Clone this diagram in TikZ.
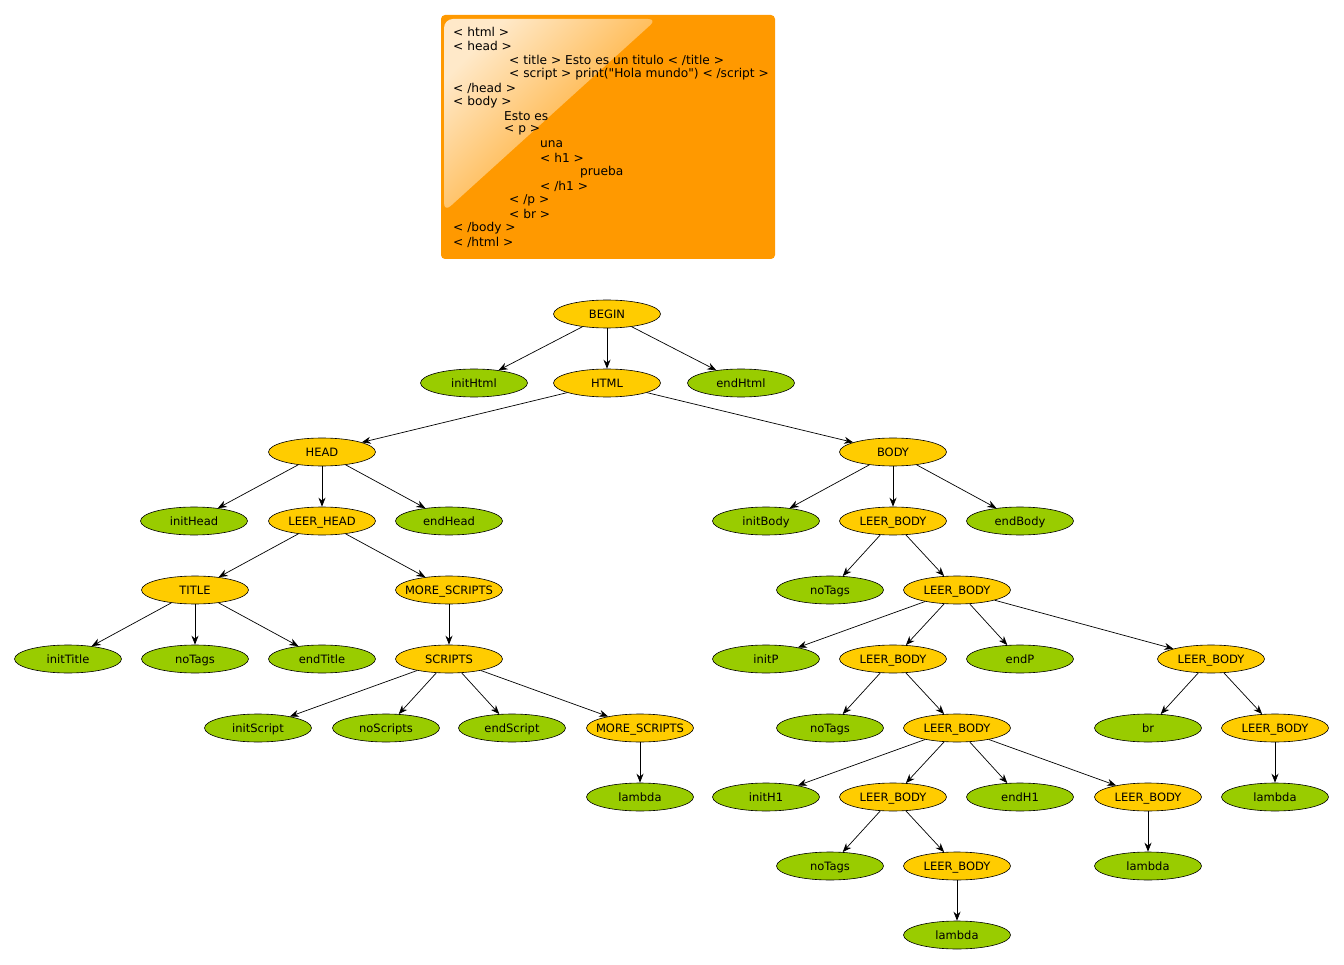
\documentclass[tikz,border=0pt]{standalone}
\usepackage{fontspec}
\setmainfont{DejaVu Sans}
\usetikzlibrary{shapes.geometric,arrows.meta}
\definecolor{nt}{HTML}{FFCC00}
\definecolor{tm}{HTML}{99CC00}
\definecolor{boxor}{HTML}{FF9900}
\definecolor{glossA}{HTML}{FFE9C9}
\definecolor{glossM}{HTML}{FFAA36}
% label that does not widen its ellipse
\newcommand\nodetext[1]{\makebox[0pt]{#1}}
\tikzset{
  gnode/.style={ellipse,draw=black,line width=0.6pt,minimum width=107pt,minimum height=28pt,inner sep=0pt,
    text height=10.4pt,text depth=2pt,font=\fontsize{11.5}{13}\selectfont},
  nonterm/.style={gnode,fill=nt},
  term/.style={gnode,fill=tm},
  edge/.style={-{Stealth[length=9pt,width=7pt]},line width=0.7pt},
  codeline/.style={anchor=west,inner sep=0pt,font=\fontsize{12.2}{14}\selectfont}
}
\begin{document}
\begin{tikzpicture}[x=1pt,y=-1pt]
\useasboundingbox (0,0) rectangle (1344,965);
\fill[white] (0,0) rectangle (1344,965);
% source box with gloss
\fill[boxor,rounded corners=4pt] (441,15) rectangle (775,259);
\shade[top color=glossA,middle color=glossM,bottom color=boxor,shading angle=45,rounded corners=9pt]
  (444,19) -- (657,19) -- (444,212) -- cycle;
\node[codeline] (l1) at (453,32) {< html >};
\node[codeline] (l2) at (453,46) {< head >};
\node[codeline] (l3) at (509,60) {< title > Esto es un titulo < /title >};
\node[codeline] (l4) at (509,74) {< script > print(\textquotedbl Hola mundo\textquotedbl) < /script >};
\node[codeline] (l5) at (453,88) {< /head >};
\node[codeline] (l6) at (453,102) {< body >};
\node[codeline] (l7) at (504,116) {Esto es};
\node[codeline] (l8) at (504,130) {< p >};
\node[codeline] (l9) at (540,144) {una};
\node[codeline] (l10) at (540,158) {< h1 >};
\node[codeline] (l11) at (580,172) {prueba};
\node[codeline] (l12) at (540,186) {< /h1 >};
\node[codeline] (l13) at (509,200) {< /p >};
\node[codeline] (l14) at (509,214) {< br >};
\node[codeline] (l15) at (453,228) {< /body >};
\node[codeline] (l16) at (453,242) {< /html >};
% tree nodes
\node[nonterm] (begin) at (607,314) {\nodetext{BEGIN}};
\node[term] (inithtml) at (474,383) {\nodetext{initHtml}};
\node[nonterm] (html) at (607,383) {\nodetext{HTML}};
\node[term] (endhtml) at (741,383) {\nodetext{endHtml}};
\node[nonterm] (head) at (322,452) {\nodetext{HEAD}};
\node[nonterm] (body) at (893,452) {\nodetext{BODY}};
\node[term] (inithead) at (194,521) {\nodetext{initHead}};
\node[nonterm] (leerhead) at (322,521) {\nodetext{LEER\_HEAD}};
\node[term] (endhead) at (449,521) {\nodetext{endHead}};
\node[term] (initbody) at (766,521) {\nodetext{initBody}};
\node[nonterm] (lb1) at (893,521) {\nodetext{LEER\_BODY}};
\node[term] (endbody) at (1020,521) {\nodetext{endBody}};
\node[nonterm] (title) at (195,590) {\nodetext{TITLE}};
\node[nonterm] (ms1) at (449,590) {\nodetext{MORE\_SCRIPTS}};
\node[term] (nt1) at (830,590) {\nodetext{noTags}};
\node[nonterm] (lb2) at (957,590) {\nodetext{LEER\_BODY}};
\node[term] (inittitle) at (68,659) {\nodetext{initTitle}};
\node[term] (nttitle) at (195,659) {\nodetext{noTags}};
\node[term] (endtitle) at (322,659) {\nodetext{endTitle}};
\node[nonterm] (scripts) at (449,659) {\nodetext{SCRIPTS}};
\node[term] (initp) at (766,659) {\nodetext{initP}};
\node[nonterm] (lb3) at (893,659) {\nodetext{LEER\_BODY}};
\node[term] (endp) at (1020,659) {\nodetext{endP}};
\node[nonterm] (lb4) at (1211,659) {\nodetext{LEER\_BODY}};
\node[term] (initscript) at (258,728) {\nodetext{initScript}};
\node[term] (noscripts) at (386,728) {\nodetext{noScripts}};
\node[term] (endscript) at (512,728) {\nodetext{endScript}};
\node[nonterm] (ms2) at (640,728) {\nodetext{MORE\_SCRIPTS}};
\node[term] (nt2) at (830,728) {\nodetext{noTags}};
\node[nonterm] (lb5) at (957,728) {\nodetext{LEER\_BODY}};
\node[term] (br) at (1148,728) {\nodetext{br}};
\node[nonterm] (lb6) at (1275,728) {\nodetext{LEER\_BODY}};
\node[term] (lam1) at (640,797) {\nodetext{lambda}};
\node[term] (inith1) at (766,797) {\nodetext{initH1}};
\node[nonterm] (lb7) at (893,797) {\nodetext{LEER\_BODY}};
\node[term] (endh1) at (1020,797) {\nodetext{endH1}};
\node[nonterm] (lb8) at (1148,797) {\nodetext{LEER\_BODY}};
\node[term] (lam2) at (1275,797) {\nodetext{lambda}};
\node[term] (nt3) at (830,866) {\nodetext{noTags}};
\node[nonterm] (lb9) at (957,866) {\nodetext{LEER\_BODY}};
\node[term] (lam3) at (1148,866) {\nodetext{lambda}};
\node[term] (lam4) at (957,935) {\nodetext{lambda}};
% derivation edges
\foreach \p/\c in {begin/inithtml,begin/html,begin/endhtml,
  html/head,html/body,
  head/inithead,head/leerhead,head/endhead,
  body/initbody,body/lb1,body/endbody,
  leerhead/title,leerhead/ms1,
  lb1/nt1,lb1/lb2,
  title/inittitle,title/nttitle,title/endtitle,
  ms1/scripts,
  lb2/initp,lb2/lb3,lb2/endp,lb2/lb4,
  scripts/initscript,scripts/noscripts,scripts/endscript,scripts/ms2,
  lb3/nt2,lb3/lb5,
  lb4/br,lb4/lb6,
  ms2/lam1,
  lb5/inith1,lb5/lb7,lb5/endh1,lb5/lb8,
  lb6/lam2,
  lb7/nt3,lb7/lb9,
  lb8/lam3,
  lb9/lam4}
  \draw[edge] (\p) -- (\c);
\end{tikzpicture}
\end{document}
